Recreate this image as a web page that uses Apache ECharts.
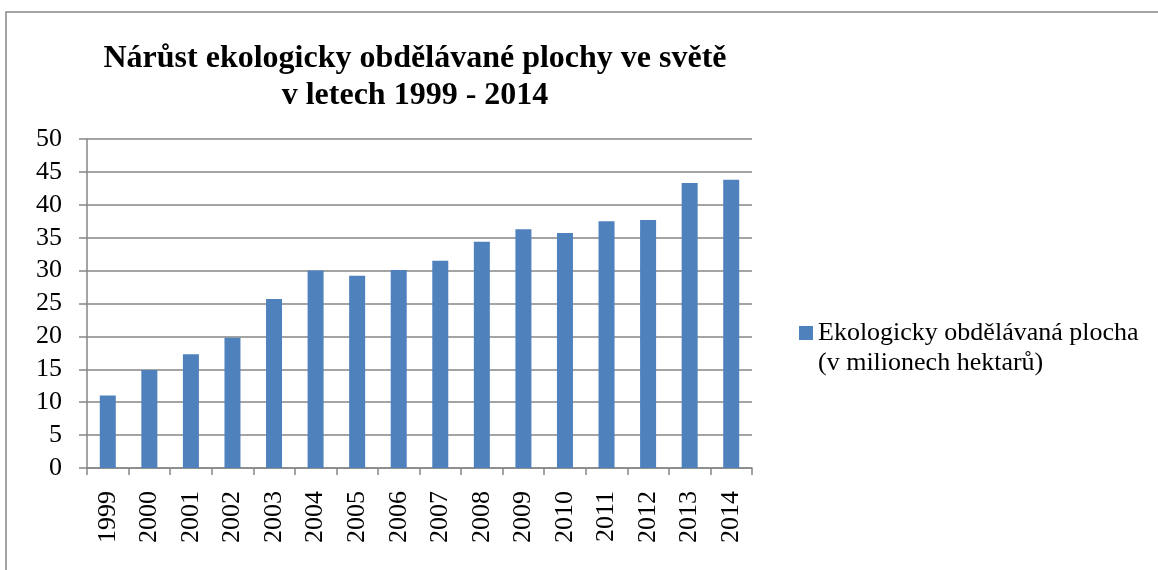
<!DOCTYPE html>
<html><head><meta charset="utf-8">
<script src="https://cdn.jsdelivr.net/npm/echarts@6/dist/echarts.min.js"></script>
<style>html,body{margin:0;padding:0;background:#fff}#c{width:1158px;height:570px}</style>
</head><body><div id="c"></div>
<script>
const titleText = 'Nárůst ekologicky obdělávané plochy ve světě\nv letech 1999 - 2014';
const seriesName = 'Ekologicky obdělávaná plocha';
const seriesNameLine2 = '(v milionech hektarů)';
const years = ['1999','2000','2001','2002','2003','2004','2005','2006','2007','2008','2009','2010','2011','2012','2013','2014'];
const values = [11.0, 14.9, 17.3, 19.8, 25.7, 30.0, 29.2, 30.1, 31.5, 34.4, 36.3, 35.7, 37.5, 37.7, 43.3, 43.8];
const yTicks = {min: 0, max: 50, interval: 5};

const font = '"Liberation Serif", "Times New Roman", serif';
const chart = echarts.init(document.getElementById('c'));
chart.setOption({
  animation: false,
  backgroundColor: '#fff',
  graphic: [{
    type: 'rect', shape: {x: 6, y: 12, width: 1200, height: 600},
    style: {fill: 'none', stroke: '#868686', lineWidth: 1.5}, silent: true
  }],
  title: {
    text: titleText, left: 410, top: 35, textAlign: 'center',
    textStyle: {fontFamily: font, fontSize: 32, fontWeight: 'bold', color: '#000', lineHeight: 37}
  },
  legend: {
    left: 794, top: 283, orient: 'vertical', icon: 'rect', itemWidth: 14, itemHeight: 14, itemGap: 5,
    formatter: function (name) { return '{e| }\n{a|' + name + '}\n{a|' + seriesNameLine2 + '}'; },
    textStyle: {
      fontFamily: font, fontSize: 26, color: '#000', lineHeight: 30,
      rich: {
        e: {fontSize: 26, lineHeight: 30, fontFamily: font},
        a: {fontSize: 26, lineHeight: 30, fontFamily: font, color: '#000'}
      }
    },
    data: [seriesName]
  },
  grid: {left: 87, right: 406, top: 139, bottom: 102, containLabel: false},
  xAxis: {
    type: 'category', data: years, boundaryGap: true,
    axisLine: {lineStyle: {color: '#868686', width: 1.5}},
    axisTick: {show: true, length: 7, lineStyle: {color: '#868686', width: 1.5}},
    axisLabel: {rotate: 90, margin: 23, fontFamily: font, fontSize: 26, color: '#000'}
  },
  yAxis: {
    type: 'value', min: yTicks.min, max: yTicks.max, interval: yTicks.interval,
    axisLine: {show: true, lineStyle: {color: '#868686', width: 1.5}},
    axisTick: {show: true, length: 8, lineStyle: {color: '#868686', width: 1.5}},
    splitLine: {show: true, lineStyle: {color: '#868686', width: 1.5}},
    axisLabel: {margin: 25, fontFamily: font, fontSize: 26, color: '#000'}
  },
  series: [{
    name: seriesName, type: 'bar', data: values, barWidth: 16,
    itemStyle: {color: '#4F81BD'}
  }]
});
</script></body></html>
